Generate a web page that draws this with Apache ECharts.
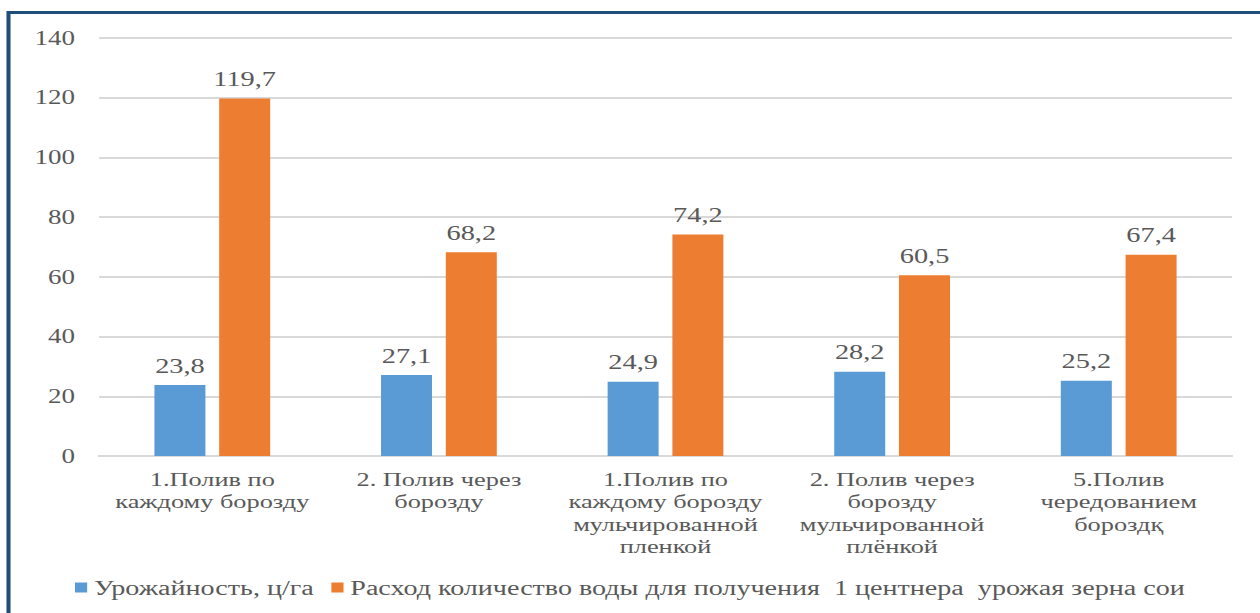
<!DOCTYPE html>
<html><head><meta charset="utf-8">
<script src="https://cdn.jsdelivr.net/npm/echarts@6/dist/echarts.min.js"></script>
<style>
html,body{margin:0;padding:0;background:#fff;overflow:hidden}
#wrap{width:1260px;height:613px;overflow:hidden;position:relative}
#c{width:933px;height:613px;transform:scaleX(1.3505);transform-origin:0 0;position:absolute;left:0;top:0}
</style>
</head><body><div id="wrap"><div id="c"></div></div>
<script>
const categories = [
  "1.Полив по\nкаждому борозду",
  "2. Полив через\nборозду",
  "1.Полив по\nкаждому борозду\nмульчированной\nпленкой",
  "2. Полив через\nборозду\nмульчированной\nплёнкой",
  "5.Полив\nчередованием\nбороздқ"
];
const seriesNames = ["Урожайность, ц/га", "Расход количество воды для получения  1 центнера  урожая зерна сои"];
const yieldValues = [23.8, 27.1, 24.9, 28.2, 25.2];
const waterValues = [119.7, 68.2, 74.2, 60.5, 67.4];
const yTicks = [0, 20, 40, 60, 80, 100, 120, 140];

const S = 1.3505; // horizontal stretch of the reference
const font = '"Liberation Serif", "DejaVu Serif", serif';
const txt = '#595959';
const chart = echarts.init(document.getElementById('c'), null, {renderer: 'svg'});
const lbl = {show: true, position: 'top', distance: 9, color: txt, fontFamily: font, fontSize: 21,
  formatter: p => String(p.value).replace('.', ',')};
chart.setOption({
  animation: false,
  graphic: [{type: 'rect', shape: {x: 8.5 / S, y: 12.5, width: 1400, height: 800},
    style: {fill: null, stroke: '#1F4E79', lineWidth: 3}, silent: true}],
  grid: {left: 99 / S, right: 28 / S, top: 38, bottom: 157},
  legend: {bottom: 10, left: 'center', itemWidth: 9, itemHeight: 10, itemGap: 13, icon: 'rect',
    textStyle: {color: txt, fontFamily: font, fontSize: 20.8}, data: seriesNames},
  xAxis: {type: 'category', data: categories,
    axisLine: {lineStyle: {color: '#D9D9D9', width: 2}}, axisTick: {show: false},
    axisLabel: {color: txt, fontFamily: font, fontSize: 19.5, lineHeight: 22.5, margin: 12, interval: 0}},
  yAxis: {type: 'value', min: yTicks[0], max: yTicks[yTicks.length - 1], interval: 20,
    axisLine: {show: false}, axisTick: {show: false},
    splitLine: {lineStyle: {color: '#D9D9D9', width: 2}},
    axisLabel: {color: txt, fontFamily: font, fontSize: 20, margin: 24 / S}},
  series: [
    {name: seriesNames[0], type: 'bar', data: yieldValues, barWidth: 51 / S, barGap: '27%',
      itemStyle: {color: '#5B9BD5'}, label: lbl},
    {name: seriesNames[1], type: 'bar', data: waterValues, barWidth: 51 / S,
      itemStyle: {color: '#ED7D31'}, label: lbl}
  ]
});
</script></body></html>
